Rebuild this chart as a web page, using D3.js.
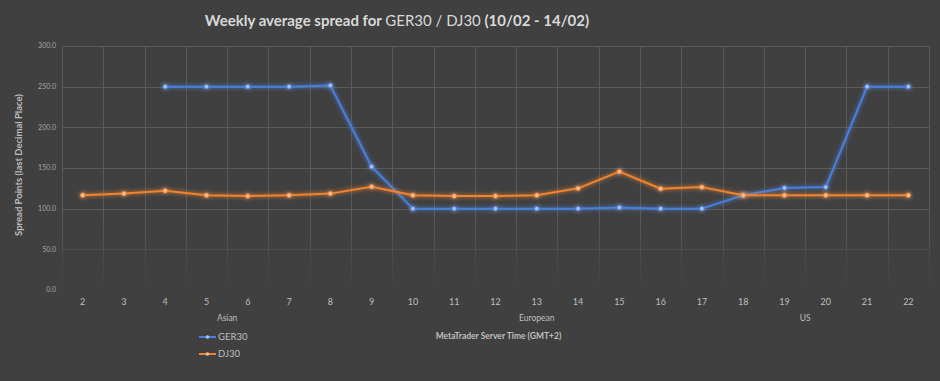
<!DOCTYPE html>
<html>
<head>
<meta charset="utf-8">
<script src="https://cdn.jsdelivr.net/npm/d3@7"></script>
<style>
  html, body { margin: 0; padding: 0; background: #404040; }
  svg { display: block; font-family: Lato, "Open Sans", sans-serif; }
</style>
</head>
<body>
<svg id="chart"></svg>
<script>
const width = 940;
const height = 381;

// hours on the MetaTrader server clock
const hours = ["2","3","4","5","6","7","8","9","10","11","12","13","14","15","16","17","18","19","20","21","22"];

// GER30 has no values for hours 2 and 3
const ger30 = [null, null, 250, 250, 250, 250, 251.5, 151.5, 100, 100, 100, 100, 100, 101.5, 100, 100, 116.5, 125.5, 126.5, 250, 250];
const dj30 = [116.5, 118.5, 122, 116.5, 115.5, 116.5, 118.5, 127, 116.5, 115.5, 115.5, 116.5, 125, 145.5, 124.5, 126.5, 116.5, 116.5, 116.5, 116.5, 116.5];

const sessions = ["Asian", "European", "US"];
const sessionFrom = ["2", "10", "17"];
const sessionTo = ["9", "16", "22"];

const yTicks = [0, 50, 100, 150, 200, 250, 300];

const seriesNames = ["GER30", "DJ30"];
const seriesColors = ["#4a7fdc", "#f0832f"];
const markerColors = ["#a9c4f5", "#ffc08f"];

const margin = { top: 46, right: 11, bottom: 91, left: 62 };

let svg = d3.select("#chart").attr("width", width).attr("height", height);

const defs = svg.append("defs");

// soft glow round the lines
const glow = defs.append("filter").attr("id", "glow")
  .attr("x", "-10%").attr("y", "-50%").attr("width", "120%").attr("height", "200%");
glow.append("feGaussianBlur").attr("in", "SourceGraphic").attr("stdDeviation", 2.2).attr("result", "blur");
const merge = glow.append("feMerge");
merge.append("feMergeNode").attr("in", "blur");
merge.append("feMergeNode").attr("in", "SourceGraphic");

// grid fades out towards the bottom
const fade = defs.append("linearGradient").attr("id", "fade")
  .attr("gradientUnits", "userSpaceOnUse")
  .attr("x1", 0).attr("x2", 0).attr("y1", margin.top).attr("y2", height - margin.bottom);
fade.append("stop").attr("offset", "0").attr("stop-color", "#fff");
fade.append("stop").attr("offset", "0.7").attr("stop-color", "#fff");
fade.append("stop").attr("offset", "1").attr("stop-color", "#000");
defs.append("mask").attr("id", "fadeMask")
  .attr("maskUnits", "userSpaceOnUse")
  .attr("x", 0).attr("y", 0).attr("width", width).attr("height", height)
  .append("rect").attr("x", 0).attr("y", 0).attr("width", width).attr("height", height)
  .attr("fill", "url(#fade)");

const x = d3.scaleBand()
  .domain(hours)
  .range([margin.left, width - margin.right]);

const y = d3.scaleLinear()
  .domain([0, 300])
  .range([height - margin.bottom, margin.top]);

const cx = (h) => x(h) + x.bandwidth() / 2;

// gridlines
const grid = svg.append("g").attr("mask", "url(#fadeMask)")
  .attr("stroke", "#5a5a5a").attr("stroke-width", 1).attr("shape-rendering", "crispEdges");

grid.selectAll("line.h")
  .data(yTicks.filter((t) => t > 0))
  .enter().append("line")
  .attr("class", "h")
  .attr("x1", margin.left).attr("x2", width - margin.right)
  .attr("y1", (d) => Math.round(y(d)) + 0.5).attr("y2", (d) => Math.round(y(d)) + 0.5);

const edges = hours.map((h) => x(h)).concat([x(hours[hours.length - 1]) + x.bandwidth()]);
grid.selectAll("line.v")
  .data(edges)
  .enter().append("line")
  .attr("class", "v")
  .attr("x1", (d) => Math.round(d) + 0.5).attr("x2", (d) => Math.round(d) + 0.5)
  .attr("y1", y(300)).attr("y2", y(0));

// y tick labels
svg.append("g")
  .selectAll("text")
  .data(yTicks)
  .enter().append("text")
  .attr("x", margin.left - 6)
  .attr("y", (d) => y(d))
  .attr("dy", "0.35em")
  .attr("text-anchor", "end")
  .attr("fill", "#a6a6a6")
  .attr("font-size", 7)
  .text((d) => d3.format(".1f")(d));

// x tick labels
svg.append("g")
  .selectAll("text")
  .data(hours)
  .enter().append("text")
  .attr("x", (d) => cx(d))
  .attr("y", 305)
  .attr("text-anchor", "middle")
  .attr("fill", "#bfbfbf")
  .attr("font-size", 9)
  .text((d) => d);

// session labels, centred under their hours
svg.append("g")
  .selectAll("text")
  .data(sessions)
  .enter().append("text")
  .attr("x", (d, i) => (cx(sessionFrom[i]) + cx(sessionTo[i])) / 2)
  .attr("y", 321)
  .attr("text-anchor", "middle")
  .attr("fill", "#bfbfbf")
  .attr("font-size", 8.5)
  .text((d) => d);

// axis titles
svg.append("text")
  .attr("x", (margin.left + width - margin.right) / 2 + 3)
  .attr("y", 339)
  .attr("text-anchor", "middle")
  .attr("fill", "#bfbfbf")
  .attr("font-size", 8.5)
  .attr("font-weight", "bold")
  .text("MetaTrader Server Time (GMT+2)");

svg.append("text")
  .attr("transform", `translate(22, ${(y(0) + y(300)) / 2 - 3}) rotate(-90)`)
  .attr("text-anchor", "middle")
  .attr("fill", "#bfbfbf")
  .attr("font-size", 9.5)
  .attr("font-weight", "bold")
  .text("Spread Points  (last Decimal Place)");

// title
const title = svg.append("text")
  .attr("x", 397)
  .attr("y", 26)
  .attr("text-anchor", "middle")
  .attr("fill", "#d9d9d9")
  .attr("font-size", 15);
title.append("tspan").attr("font-weight", "bold").text("Weekly average spread for ");
title.append("tspan").text("GER30 / DJ30");
title.append("tspan").attr("font-weight", "bold").text(" (10/02 - 14/02)");

// series
const allSeries = [ger30, dj30];
const line = d3.line()
  .defined((d) => d.v !== null)
  .x((d) => cx(d.h))
  .y((d) => y(d.v));

allSeries.forEach((values, i) => {
  const pts = hours.map((h, j) => ({ h: h, v: values[j] }));
  const g = svg.append("g").attr("filter", "url(#glow)");
  g.append("path")
    .datum(pts)
    .attr("fill", "none")
    .attr("stroke", seriesColors[i])
    .attr("stroke-width", 2)
    .attr("stroke-linejoin", "round")
    .attr("d", line);
  g.selectAll("circle")
    .data(pts.filter((d) => d.v !== null))
    .enter().append("circle")
    .attr("cx", (d) => cx(d.h))
    .attr("cy", (d) => y(d.v))
    .attr("r", 2.2)
    .attr("fill", markerColors[i])
    .attr("stroke", seriesColors[i])
    .attr("stroke-width", 0.8);
});

// legend
const legend = svg.append("g")
  .selectAll("g")
  .data(seriesNames)
  .enter().append("g")
  .attr("transform", (d, i) => `translate(199, ${337 + i * 17})`);
legend.append("line")
  .attr("x1", 0).attr("x2", 17)
  .attr("stroke", (d, i) => seriesColors[i])
  .attr("stroke-width", 2);
legend.append("circle")
  .attr("cx", 8.5).attr("r", 1.8)
  .attr("fill", (d, i) => markerColors[i]);
legend.append("text")
  .attr("x", 19)
  .attr("dy", "0.35em")
  .attr("fill", "#bfbfbf")
  .attr("font-size", 9.5)
  .text((d) => d);
</script>
</body>
</html>
